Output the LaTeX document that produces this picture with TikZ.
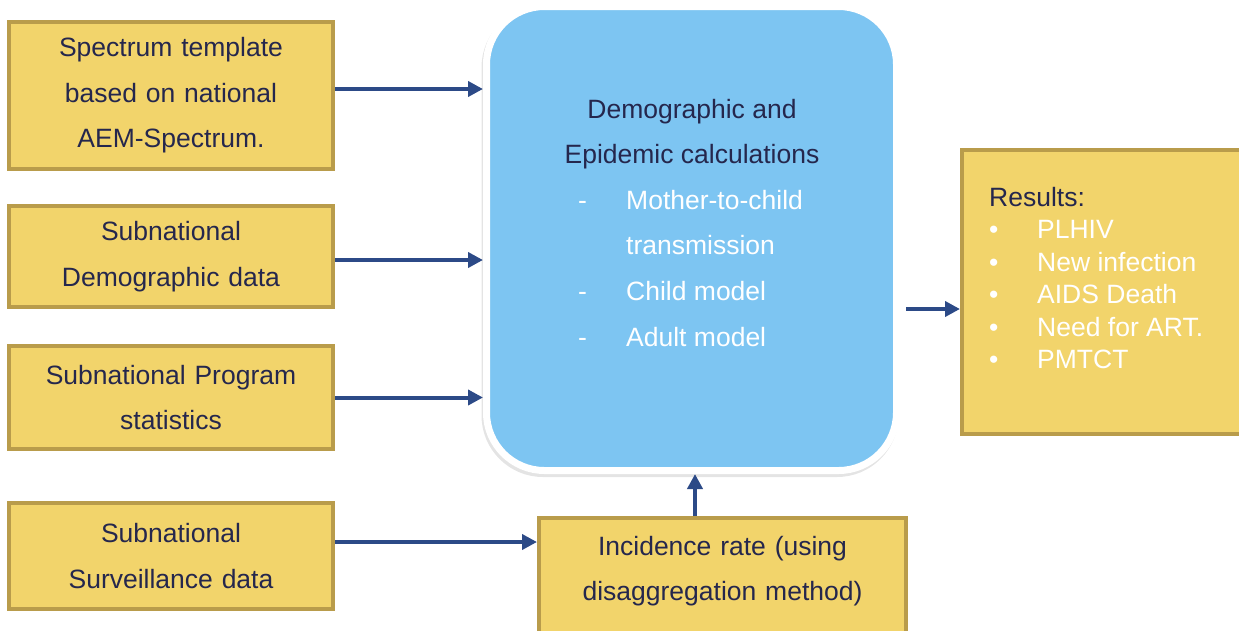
\documentclass[tikz,border=0pt]{standalone}
\usepackage{fontspec}
\setmainfont{Liberation Sans}
\usetikzlibrary{positioning, arrows.meta, shadows}
\definecolor{BoxGold}{HTML}{F2D46B}
\definecolor{BoxEdge}{HTML}{B99C4B}
\definecolor{CalcBlue}{HTML}{7DC5F2}
\definecolor{ArrowNavy}{HTML}{2C4A87}
\definecolor{TextNavy}{HTML}{25274D}
\newcommand{\resitem}[1]{\textcolor{white}{\makebox[48pt][l]{•}#1}}
\tikzset{
  inputbox/.style={rectangle, draw=BoxEdge, fill=BoxGold, line width=4pt, minimum width=324pt, inner sep=0pt, text width=320pt, align=center, text=TextNavy, font=\fontsize{26.5}{45.5}\selectfont},
  calcbox/.style={rectangle, rounded corners=58pt, draw=white, fill=CalcBlue, line width=7pt, minimum width=410pt, minimum height=464pt, drop shadow={shadow xshift=-1.5pt, shadow yshift=-3pt, opacity=.3, fill=black!35, draw=black!35, line width=7pt}},
  calctext/.style={inner sep=0pt, text=white, font=\fontsize{26.5}{45.5}\selectfont},
  arrow/.style={-{Triangle[length=15pt,width=15pt]}, draw=ArrowNavy, line width=4pt}
}

\begin{document}
\begin{tikzpicture}[x=1pt, y=-1pt]
            \clip (0,0) rectangle (1239,630);
            % inputs on the left
            \node (template) [inputbox, minimum height=147pt] at (171,95.5) {Spectrum template\\ based on national\\ AEM-Spectrum.};
            \node (demog) [inputbox, minimum height=101pt, below=33pt of template] {Subnational\\ Demographic data};
            \node (program) [inputbox, minimum height=103pt, below=35pt of demog] {Subnational Program\\ statistics};
            \node (surv) [inputbox, minimum height=106pt, below=50pt of program] {Subnational\\ Surveillance data};
            % model
            \node (calc) [calcbox] at (691.5,238.5) {};
            \node (calchead) [calctext, text=TextNavy, align=center, anchor=north] at (692,99) {Demographic and\\ Epidemic calculations};
            \node (mtc) [calctext, anchor=base west] at (578,209) {\makebox[48pt][l]{-}Mother-to-child};
            \node (trans) [calctext, anchor=base west] at (626,254.5) {transmission};
            \node (child) [calctext, anchor=base west] at (578,300) {\makebox[48pt][l]{-}Child model};
            \node (adult) [calctext, anchor=base west] at (578,346) {\makebox[48pt][l]{-}Adult model};
            \node (incid) [inputbox, minimum width=367pt, minimum height=124pt, text width=360pt, text depth=69pt] at (722.5,580) {Incidence rate (using\\ disaggregation method)};
            % outputs
            \node (results) [inputbox, minimum width=316pt, minimum height=284pt] at (1122,292) {};
            \node (reslist) [calctext, text=TextNavy, align=left, anchor=north west, font=\fontsize{26.5}{32.5}\selectfont] at (989,187) {Results:\\ \resitem{PLHIV}\\ \resitem{New infection}\\ \resitem{AIDS Death}\\ \resitem{Need for ART.}\\ \resitem{PMTCT}};
            \coordinate (tout) at ([yshift=6.5pt]template.east);
            \coordinate (dout) at ([yshift=-3.5pt]demog.east);
            \coordinate (sout) at ([yshift=14pt]surv.east);
            \coordinate (cout) at ([yshift=-70.5pt]calc.east);
            \coordinate (iup) at ([xshift=3.5pt]calc.south);
            \draw [arrow] (tout) -- (tout -| calc.west);
            \draw [arrow] (dout) -- (dout -| calc.west);
            \draw [arrow] (program.east) -- (program.east -| calc.west);
            \draw [arrow] (sout) -- (sout -| incid.west);
            \draw [arrow] (iup |- incid.north) -- (iup);
            \draw [arrow, shorten <=6pt] (cout) -- (cout -| results.west);
        \end{tikzpicture}
\end{document}
